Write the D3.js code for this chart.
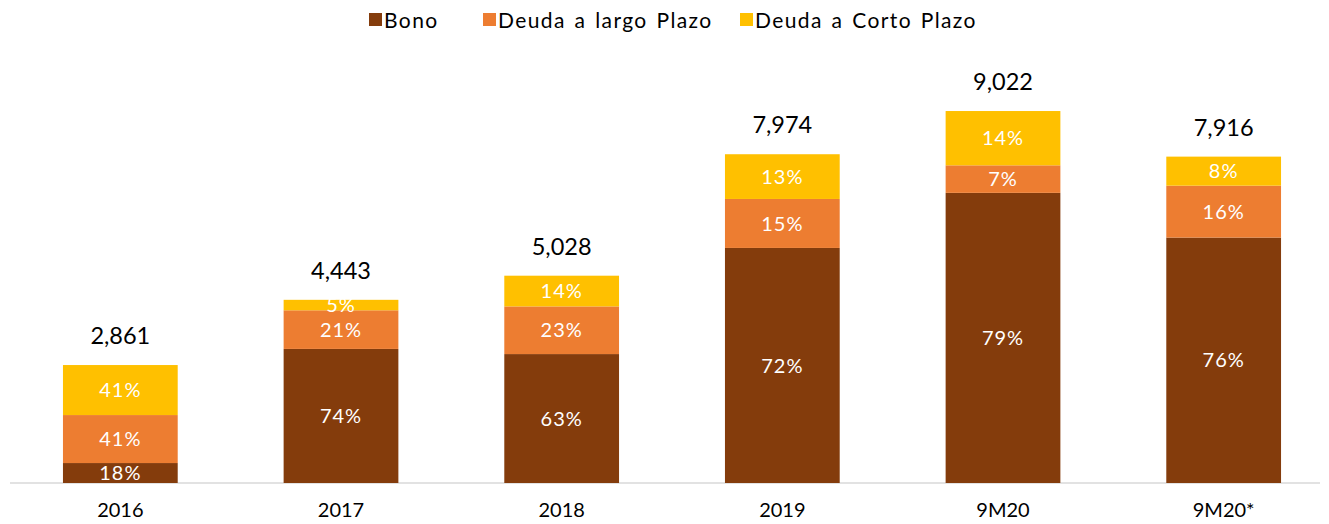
<!DOCTYPE html>
<html>
<head>
<meta charset="utf-8">
<script src="https://cdn.jsdelivr.net/npm/d3@7"></script>
<style>
  body { margin: 0; background: #fff; }
  svg { font-family: "Lato", "DejaVu Sans", sans-serif; }
</style>
</head>
<body>
<div id="chart"></div>
<script>
// categories and debt amounts (millions), segments
const categories = ["2016", "2017", "2018", "2019", "9M20", "9M20*"];
const totals = [2861, 4443, 5028, 7974, 9022, 7916];
const bono = [484, 3252, 3127, 5701, 7037, 5953];
const largoPlazo = [1164, 937, 1156, 1188, 668, 1259];
const cortoPlazo = [1213, 254, 745, 1085, 1317, 704];
// share labels as printed on the chart
const bonoPct = [18, 74, 63, 72, 79, 76];
const largoPct = [41, 21, 23, 15, 7, 16];
const cortoPct = [41, 5, 14, 13, 14, 8];
const seriesNames = ["Bono", "Deuda a largo Plazo", "Deuda a Corto Plazo"];
const colors = ["#843C0C", "#ED7D31", "#FFC000"];

const width = 1329, height = 524;
const svg = d3.select("#chart").append("svg")
    .attr("width", width)
    .attr("height", height);

const x = d3.scaleBand()
    .domain(categories)
    .range([10, 1334])
    .paddingInner(0.48)
    .paddingOuter(0.24);

const y = d3.scaleLinear()
    .domain([0, 10000])
    .range([483, 70.7]);

const rows = categories.map((c, i) => ({
    cat: c,
    total: totals[i],
    "Bono": bono[i],
    "Deuda a largo Plazo": largoPlazo[i],
    "Deuda a Corto Plazo": cortoPlazo[i],
    pct: { "Bono": bonoPct[i], "Deuda a largo Plazo": largoPct[i], "Deuda a Corto Plazo": cortoPct[i] }
}));
const layers = d3.stack().keys(seriesNames)(rows);

// baseline
svg.append("line")
    .attr("x1", 10).attr("x2", 1320)
    .attr("y1", y(0)).attr("y2", y(0))
    .attr("stroke", "#d9d9d9")
    .attr("stroke-width", 1.5);

const groups = svg.append("g").selectAll("g")
    .data(layers)
    .enter().append("g")
    .attr("fill", (d, i) => colors[i]);

groups.selectAll("rect")
    .data(d => d.map(s => Object.assign(s, { key: d.key })))
    .enter().append("rect")
    .attr("x", d => x(d.data.cat))
    .attr("width", x.bandwidth())
    .attr("y", d => y(d[1]))
    .attr("height", d => y(d[0]) - y(d[1]));

// percent labels inside segments
groups.selectAll("text")
    .data(d => d)
    .enter().append("text")
    .attr("x", d => x(d.data.cat) + x.bandwidth() / 2)
    .attr("y", d => (y(d[0]) + y(d[1])) / 2)
    .attr("dy", "0.36em")
    .attr("text-anchor", "middle")
    .attr("fill", "#fff")
    .style("font-size", "20px")
    .style("letter-spacing", "1px")
    .text(d => d.data.pct[d.key] + "%");

// totals above the bars
svg.append("g").selectAll("text")
    .data(rows)
    .enter().append("text")
    .attr("x", d => x(d.cat) + x.bandwidth() / 2)
    .attr("y", d => y(d.total) - 21)
    .attr("text-anchor", "middle")
    .attr("fill", "#000")
    .style("font-size", "23.5px")
    .text(d => d3.format(",")(d.total));

// category axis
const xAxis = svg.append("g")
    .attr("transform", "translate(0," + y(0) + ")")
    .call(d3.axisBottom(x).tickSize(0).tickPadding(20));
xAxis.select(".domain").remove();
xAxis.selectAll("text")
    .attr("fill", "#000")
    .style("font-size", "20px")
    .style("font-family", "Lato, sans-serif");

// legend
const legendX = [369, 483, 740];
const legend = svg.append("g").selectAll("g")
    .data(seriesNames)
    .enter().append("g")
    .attr("transform", (d, i) => "translate(" + legendX[i] + ",13)");
legend.append("rect")
    .attr("width", 13).attr("height", 13)
    .attr("fill", (d, i) => colors[i]);
legend.append("text")
    .attr("x", 15)
    .attr("y", 7)
    .attr("dy", "0.36em")
    .style("font-size", "21px")
    .style("letter-spacing", "1.4px")
    .style("word-spacing", "2px")
    .attr("fill", "#000")
    .text(d => d);
</script>
</body>
</html>
